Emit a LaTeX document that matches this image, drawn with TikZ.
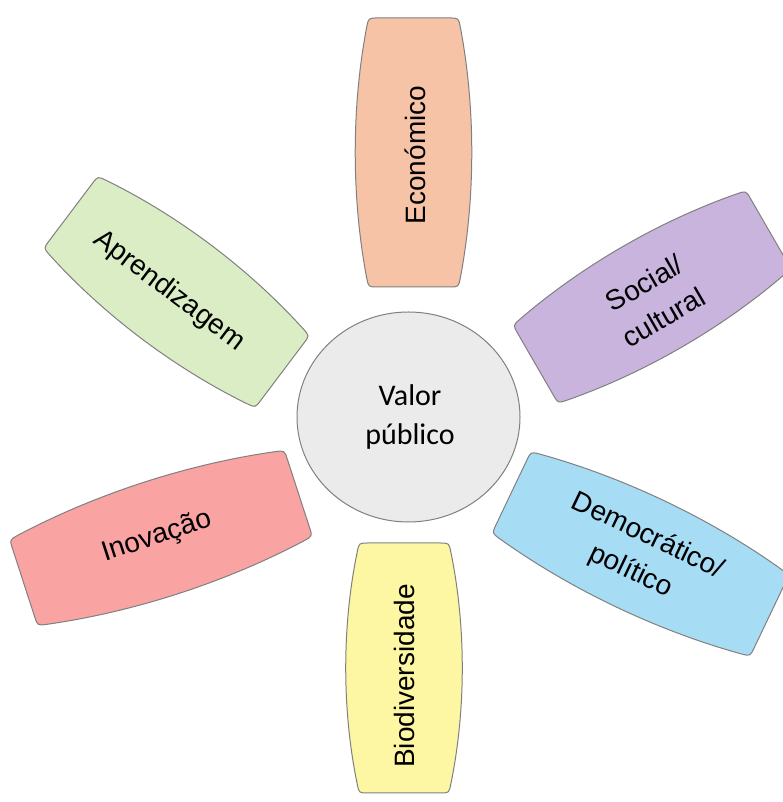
\documentclass[tikz,border=0pt]{standalone}
\usepackage{fontspec}
\setmainfont{Liberation Sans}
\newfontfamily\centerfont{Carlito}
\definecolor{econ}{HTML}{F7C3A7}
\definecolor{soc}{HTML}{C9B4DE}
\definecolor{demo}{HTML}{A6DDF5}
\definecolor{bio}{HTML}{FDF7A3}
\definecolor{inov}{HTML}{F9A3A3}
\definecolor{apr}{HTML}{DAEDC5}
\definecolor{circ}{HTML}{EBEBEB}
\definecolor{edge}{HTML}{808080}
\newcommand\petalshape[5]{%
  \pgfmathsetmacro\pa{#4/2}%
  \def\pb{45}%
  \begin{scope}[shift={(#1,#2)},rotate=#3]
    \filldraw[petalline,fill=#5]
      (-\pa,-\pb+9) -- (-\pa,\pb-9)
      .. controls (-\pa,\pb) .. (-\pa+9,\pb+1.8)
      .. controls (-\pa/3,\pb+17.1) and (\pa/3,\pb+17.1) .. (\pa-9,\pb+1.8)
      .. controls (\pa,\pb) .. (\pa,\pb-9)
      -- (\pa,-\pb+9)
      .. controls (\pa,-\pb) .. (\pa-9,-\pb-1.8)
      .. controls (\pa/3,-\pb-17.1) and (-\pa/3,-\pb-17.1) .. (-\pa+9,-\pb-1.8)
      .. controls (-\pa,-\pb) .. (-\pa,-\pb+9) -- cycle;
  \end{scope}}
\begin{document}
\begin{tikzpicture}[x=1pt,y=1pt,
  petalline/.style={draw=edge,line width=1pt},
  ptext/.style={font=\fontsize{28}{39}\selectfont,align=center,inner sep=0pt},
  ctext/.style={font=\centerfont\fontsize{30}{39}\selectfont,align=center,inner sep=0pt}]
\useasboundingbox (0,0) rectangle (783,802);
\fill[white] (0,0) rectangle (783,802);
% petals
\petalshape{413.5}{649.5}{90}{269}{econ}
\petalshape{404}{134}{90}{250}{bio}
\petalshape{176.5}{510}{-37}{265}{apr}
\petalshape{652}{505}{30}{269}{soc}
\petalshape{640.5}{248}{-25.5}{286}{demo}
\petalshape{161}{264}{18}{289}{inov}
% centre
\filldraw[draw=edge,line width=1pt,fill=circ] (408.5,385) ellipse [x radius=111.5,y radius=105];
\node[ctext] (valor) at (410,385) {Valor\\público};
% labels
\node[ptext,rotate=90] (econt) at (415,647) {Económico};
\node[ptext,rotate=90] (biot) at (404,126) {Biodiversidade};
\node[ptext,rotate=-37] (aprt) at (169,511) {Aprendizagem};
\node[ptext,rotate=30] (soct) at (654,502) {Social/\\cultural};
\node[ptext,rotate=-25.5] (demt) at (639,248) {Democrático/\\político};
\node[ptext,rotate=18] (inovt) at (157,265) {Inovação};
\end{tikzpicture}
\end{document}
